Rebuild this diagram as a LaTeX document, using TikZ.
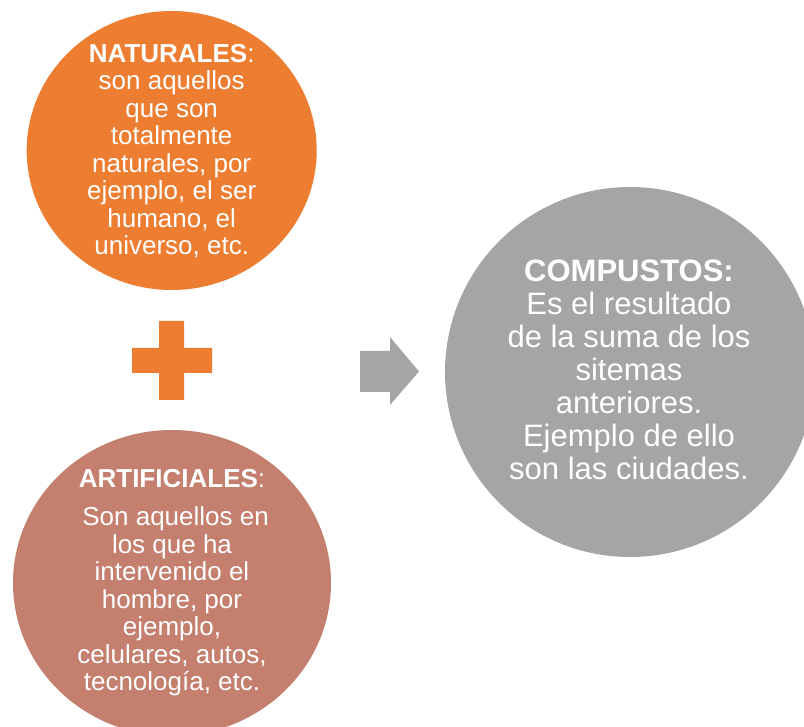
\documentclass[tikz,border=0pt]{standalone}
\usepackage{fontspec}
\usetikzlibrary{shapes.geometric}
\setmainfont{Liberation Sans}
\definecolor{natorange}{RGB}{237,125,49}
\definecolor{artrose}{RGB}{196,127,110}
\definecolor{compgray}{RGB}{165,165,165}
\tikzset{
  disc/.style={ellipse, inner sep=0pt, draw=none},
  smalltext/.style={text=white, align=center, inner sep=0pt,
    font=\fontsize{26}{27.5}\selectfont},
  bigtext/.style={text=white, align=center, inner sep=0pt,
    font=\fontsize{31}{33}\selectfont}
}
\begin{document}
\begin{tikzpicture}[x=1pt,y=-1pt]
\clip (0,0) rectangle (804,727);
\fill[white] (0,0) rectangle (804,727);
% circles
\node[disc, fill=natorange, minimum width=290pt, minimum height=279pt] (nat) at (171.7,150.5) {};
\node[disc, fill=artrose, minimum width=318pt, minimum height=306pt] (art) at (172,583) {};
\node[disc, fill=compgray, minimum width=370pt, minimum height=370pt] (comp) at (630,372) {};
% texts
\node[smalltext] (nattext) at ([yshift=-0.7pt]nat.center)
  {\textbf{NATURALES}:\\son aquellos\\que son\\totalmente\\naturales, por\\ejemplo, el ser\\humano, el\\universo, etc.};
\node[smalltext] (arttext) at (art.center)
  {\textbf{ARTIFICIALES}:\\[10.5pt] \ Son aquellos en\\los que ha\\intervenido el\\hombre, por\\ejemplo,\\celulares, autos,\\tecnología, etc.};
\node[bigtext] (comptext) at ([xshift=-1pt,yshift=2pt]comp.center)
  {\textbf{COMPUSTOS:}\\Es el resultado\\de la suma de los\\sitemas\\anteriores.\\Ejemplo de ello\\son las ciudades.};
% plus sign
\fill[natorange] (159,321) -- (184,321) -- (184,348) -- (212,348) -- (212,373)
  -- (184,373) -- (184,400) -- (159,400) -- (159,373) -- (132,373)
  -- (132,348) -- (159,348) -- cycle;
% arrow
\fill[compgray] (360,351) -- (390,351) -- (390,337) -- (419,371.5) -- (390,405)
  -- (390,392) -- (360,392) -- cycle;
\end{tikzpicture}
\end{document}
